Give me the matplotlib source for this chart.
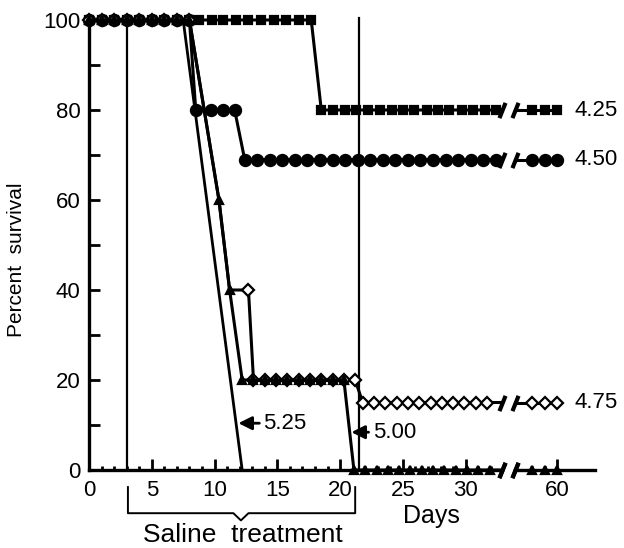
import matplotlib
matplotlib.use('Agg')
import matplotlib.pyplot as plt

plt.rcParams['font.family'] = ['Liberation Sans', 'DejaVu Sans']

# days after the axis break (57-60) are drawn shifted to the left
BREAK_SHIFT = 22.7
BRK1, BRK2 = 32.9, 33.9

# --- data (day, percent survival) ---
# 4.25 (filled squares)
sq_days = [0, 1, 2, 3, 4, 5, 6, 7, 8, 8.8, 9.8, 10.7, 11.7, 12.7, 13.7, 14.7, 15.7, 16.7, 17.7,
           18.5, 19.4, 20.4, 21.3, 22.2, 23.2, 24.1, 25.0, 25.9, 26.9, 27.8, 28.7, 29.7, 30.6, 31.5, 32.4,
           58, 59, 60]
sq_surv = [100, 100, 100, 100, 100, 100, 100, 100, 100, 100, 100, 100, 100, 100, 100, 100, 100, 100, 100,
           80, 80, 80, 80, 80, 80, 80, 80, 80, 80, 80, 80, 80, 80, 80, 80,
           80, 80, 80]

# 4.50 (filled circles)
ci_days = [0, 1, 2, 3, 4, 5, 6, 7, 8, 8.5, 9.7, 10.7, 11.6,
           12.4, 13.4, 14.4, 15.4, 16.4, 17.4, 18.4, 19.4, 20.4, 21.4, 22.4, 23.4, 24.4, 25.4, 26.4,
           27.4, 28.4, 29.4, 30.4, 31.4, 32.4,
           58, 59, 60]
ci_surv = [100, 100, 100, 100, 100, 100, 100, 100, 100, 80, 80, 80, 80,
           69, 69, 69, 69, 69, 69, 69, 69, 69, 69, 69, 69, 69, 69, 69,
           69, 69, 69, 69, 69, 69,
           69, 69, 69]

# 4.75 (open diamonds)
di_days = [0, 1, 2, 3, 4, 5, 6, 7, 8, 10.35, 11.2, 12.7,
           13.1, 14.0, 14.9, 15.8, 16.7, 17.6, 18.5, 19.4, 20.3, 21.2,
           21.8, 22.7, 23.6, 24.5, 25.4, 26.3, 27.2, 28.1, 29.0, 29.9, 30.8, 31.7,
           58, 59, 60]
di_surv = [100, 100, 100, 100, 100, 100, 100, 100, 100, 60, 40, 40,
           20, 20, 20, 20, 20, 20, 20, 20, 20, 20,
           15, 15, 15, 15, 15, 15, 15, 15, 15, 15, 15, 15,
           15, 15, 15]
di_hidden = [9, 10]   # shared path with 5.00, no diamond drawn there

# 5.00 (filled triangles)
tr_days = [0, 1, 2, 3, 4, 5, 6, 7, 8, 10.35, 11.2,
           12.2, 13.1, 14.0, 14.9, 15.8, 16.7, 17.6, 18.5, 19.4, 20.3,
           21.1, 22.0, 22.9, 23.8, 24.7, 25.6, 26.5, 27.4, 28.3, 29.2, 30.1, 31.0, 31.9,
           58, 59, 60]
tr_surv = [100, 100, 100, 100, 100, 100, 100, 100, 100, 60, 40,
           20, 20, 20, 20, 20, 20, 20, 20, 20, 20,
           0, 0, 0, 0, 0, 0, 0, 0, 0, 0, 0, 0, 0,
           0, 0, 0]

# 5.25 (plain line)
l525_days = [0, 7.5, 12.2]
l525_surv = [100, 100, 0]

saline_start, saline_end = 3.0, 21.5

x_ticks = [0, 5, 10, 15, 20, 25, 30, 60]
x_minor = [1, 2, 3, 4, 6, 7, 8, 9, 11, 12, 13, 14, 16, 17, 18, 19, 21, 22, 23, 24,
           26, 27, 28, 29, 31, 32, 58, 59]
y_ticks = [0, 20, 40, 60, 80, 100]
y_minor = [10, 30, 50, 70, 90]


def bx(days):
    return [d if d <= 33 else d - BREAK_SHIFT for d in days]


slash = [(-0.4, -1), (0.4, 1)]

fig = plt.figure(figsize=(6.24, 5.48), dpi=100)
ax = fig.add_axes([89 / 624, 78 / 548, 506 / 624, 452.25 / 548])


def draw(days, surv, marker, face, ms, z, hidden=()):
    n = len([d for d in days if d <= 33])
    keep = [i for i in range(n) if i not in hidden]
    style = dict(color='k', lw=2.2, marker=marker, mfc=face, mec='k', ms=ms, mew=1.6,
                 clip_on=False, zorder=z)
    ax.plot(days[:n] + [BRK1], surv[:n] + [surv[n - 1]], markevery=keep, **style)
    post = bx(days[n:])
    ax.plot([BRK2] + post, [surv[n]] + surv[n:], markevery=list(range(1, len(post) + 1)), **style)
    ax.plot([BRK1, BRK2], [surv[n - 1], surv[n]], ls='none', marker=slash, ms=11, mew=3,
            color='k', clip_on=False, zorder=z)


ax.plot(l525_days, l525_surv, color='k', lw=2, clip_on=False, zorder=2)
draw(sq_days, sq_surv, 's', 'k', 6.2, 3)
draw(ci_days, ci_surv, 'o', 'k', 8, 4)
draw(di_days, di_surv, 'D', 'w', 6, 5, hidden=di_hidden)
draw(tr_days, tr_surv, '^', 'k', 6, 6)

# saline treatment lines
ax.plot([saline_start, saline_start], [0, 100], color='k', lw=1.6, zorder=1)
ax.plot([saline_end, saline_end], [0, 100.5], color='k', lw=1.6, zorder=1, clip_on=False)

ax.set_xlim(0, 40.3)
ax.set_ylim(0, 100.5)
for s in ['top', 'right', 'bottom']:
    ax.spines[s].set_visible(False)
ax.spines['left'].set_linewidth(2.4)
ax.spines['left'].set_bounds(0, 100.5)

# broken x axis
ax.plot([0, BRK1], [0, 0], color='k', lw=2.4, clip_on=False, zorder=7)
ax.plot([BRK2, 40.3], [0, 0], color='k', lw=2.4, clip_on=False, zorder=7)
ax.plot([BRK1, BRK2], [0, 0], ls='none', marker=slash, ms=11, mew=3, color='k',
        clip_on=False, zorder=7)

ax.set_xticks(bx(x_ticks))
ax.set_xticklabels([str(t) for t in x_ticks])
ax.set_xticks(bx(x_minor), minor=True)
ax.set_yticks(y_ticks)
ax.set_yticks(y_minor, minor=True)
ax.tick_params(which='both', direction='in', width=2, labelsize=16, color='k')
ax.tick_params(axis='x', which='major', length=8, pad=7)
ax.tick_params(axis='x', which='minor', length=3)
ax.tick_params(axis='y', which='both', length=8, pad=6)

# right-hand labels
ax.text(38.7, 80, '4.25', fontsize=16, va='center', clip_on=False)
ax.text(38.7, 69, '4.50', fontsize=16, va='center', clip_on=False)
ax.text(38.7, 15, '4.75', fontsize=16, va='center', clip_on=False)

arrow = dict(arrowstyle='-|>', color='k', lw=2, shrinkA=1, shrinkB=0, mutation_scale=20)
ax.annotate('5.25', xy=(11.9, 10.4), xytext=(13.9, 10.4), fontsize=16, va='center',
            arrowprops=arrow)
ax.annotate('5.00', xy=(20.9, 8.4), xytext=(22.6, 8.4), fontsize=16, va='center',
            arrowprops=arrow)

# saline treatment bracket
ax.plot([3.1, 3.1, 11.5, 12.1, 12.7, 21.2, 21.2],
        [-3.8, -9.6, -9.6, -11.2, -9.6, -9.6, -3.8], color='k', lw=1.4, clip_on=False)

fig.text(243 / 624, 1 - 535 / 548, 'Saline  treatment', fontsize=19, ha='center', va='center')
fig.text(431 / 624, 1 - 516 / 548, 'Days', fontsize=18, ha='center', va='center')
fig.text(17 / 624, 1 - 260 / 548, 'Percent  survival', fontsize=15, rotation=90,
         ha='center', va='center')

fig.savefig('out.png', dpi=100)
